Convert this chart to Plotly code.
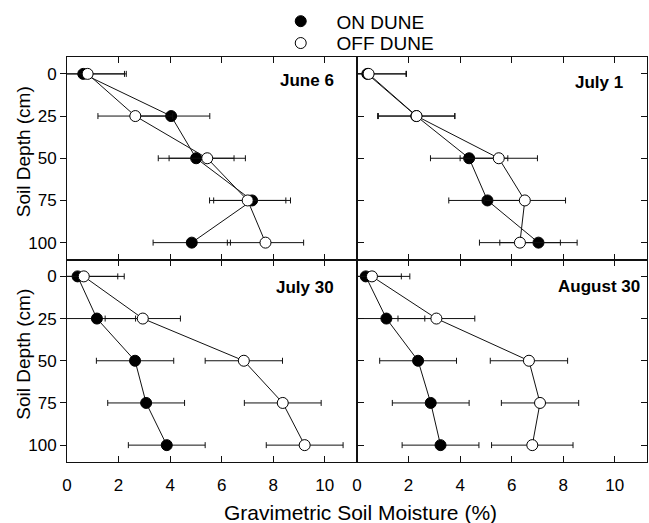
import plotly.graph_objects as go
from plotly.subplots import make_subplots

# ---- data ----
depths = [0, 25, 50, 75, 100]
panel_titles = ["June 6", "July 1", "July 30", "August 30"]
x_ticks = [0, 2, 4, 6, 8, 10]
y_ticks = [0, 25, 50, 75, 100]

june6_on = [0.63, 4.04, 5.01, 7.18, 4.84]
june6_on_err = [1.6, 1.5, 1.47, 1.49, 1.5]
june6_off = [0.80, 2.65, 5.44, 7.01, 7.70]
june6_off_err = [1.5, 1.45, 1.48, 1.48, 1.48]

july1_on = [0.40, 2.30, 4.35, 5.06, 7.04]
july1_on_err = [1.5, 1.5, 1.5, 1.5, 1.5]
july1_off = [0.45, 2.31, 5.50, 6.51, 6.32]
july1_off_err = [1.47, 1.48, 1.5, 1.58, 1.57]

july30_on = [0.41, 1.16, 2.64, 3.07, 3.87]
july30_on_err = [1.56, 1.5, 1.5, 1.49, 1.49]
july30_off = [0.65, 2.94, 6.86, 8.37, 9.22]
july30_off_err = [1.57, 1.46, 1.5, 1.49, 1.49]

aug30_on = [0.34, 1.14, 2.37, 2.86, 3.24]
aug30_on_err = [1.38, 1.49, 1.49, 1.49, 1.49]
aug30_off = [0.58, 3.08, 6.67, 7.10, 6.80]
aug30_off_err = [1.47, 1.49, 1.5, 1.5, 1.58]

panels = [
    (june6_on, june6_on_err, june6_off, june6_off_err),
    (july1_on, july1_on_err, july1_off, july1_off_err),
    (july30_on, july30_on_err, july30_off, july30_off_err),
    (aug30_on, aug30_on_err, aug30_off, aug30_off_err),
]

FONT = "Arial, Liberation Sans, Helvetica, sans-serif"
INK = "#111111"

fig = make_subplots(rows=2, cols=2, horizontal_spacing=0, vertical_spacing=0)

for i, (on, on_e, off, off_e) in enumerate(panels):
    r, c = i // 2 + 1, i % 2 + 1
    fig.add_trace(go.Scatter(
        x=on, y=depths, mode="lines+markers", showlegend=False,
        line=dict(color=INK, width=1),
        marker=dict(symbol="circle", size=11, color="black", line=dict(color="black", width=1)),
        error_x=dict(type="data", array=on_e, visible=True, color=INK, thickness=1, width=3),
    ), row=r, col=c)
    fig.add_trace(go.Scatter(
        x=off, y=depths, mode="lines+markers", showlegend=False,
        line=dict(color=INK, width=1),
        marker=dict(symbol="circle", size=11, color="white", line=dict(color="black", width=1)),
        error_x=dict(type="data", array=off_e, visible=True, color=INK, thickness=1, width=3),
    ), row=r, col=c)

# legend-only traces (one legend box each for precise placement)
NB = "\u00a0" * 3
fig.add_trace(go.Scatter(x=[None], y=[None], mode="markers", name=NB + "ON DUNE", legend="legend",
                         marker=dict(symbol="circle", size=11, color="black", line=dict(color="black", width=1))),
              row=1, col=1)
fig.add_trace(go.Scatter(x=[None], y=[None], mode="markers", name=NB + "OFF DUNE", legend="legend2",
                         marker=dict(symbol="circle", size=11, color="white", line=dict(color="black", width=1))),
              row=1, col=1)

for r in (1, 2):
    for c in (1, 2):
        fig.update_xaxes(range=[0, 11.25], tickvals=x_ticks, ticks="inside", ticklen=6,
                         showline=True, linecolor=INK, linewidth=1, mirror="ticks",
                         showgrid=False, zeroline=False, tickcolor=INK,
                         showticklabels=(r == 2), ticklabelstandoff=8,
                         tickfont=dict(family=FONT, size=17, color="black"),
                         row=r, col=c)
        fig.update_yaxes(range=[110, -10], tickvals=y_ticks,
                         ticks="outside" if c == 1 else "inside", ticklen=6,
                         showline=True, linecolor=INK, linewidth=1, mirror="ticks",
                         showgrid=False, zeroline=False, tickcolor=INK,
                         showticklabels=(c == 1),
                         tickfont=dict(family=FONT, size=17, color="black"),
                         row=r, col=c)

annotations = []
title_pos = [("x domain", "y domain", 0.927, 0.885),
             ("x2 domain", "y2 domain", 0.925, 0.875),
             ("x3 domain", "y3 domain", 0.927, 0.862),
             ("x4 domain", "y4 domain", 0.982, 0.867)]
for t, (xr, yr, xx, yy) in zip(panel_titles, title_pos):
    annotations.append(dict(text="<b>" + t + "</b>", xref=xr, yref=yr, x=xx, y=yy,
                            xanchor="right", yanchor="middle", showarrow=False,
                            font=dict(family=FONT, size=17, color="black")))
for yy in (0.767, 0.267):
    annotations.append(dict(text="Soil Depth (cm)", xref="paper", yref="paper", x=-0.0745, y=yy,
                            xanchor="center", yanchor="middle", textangle=-90, showarrow=False,
                            font=dict(family=FONT, size=19, color="black")))
annotations.append(dict(text="Gravimetric Soil Moisture (%)", xref="paper", yref="paper",
                        x=0.506, y=-0.125, xanchor="center", yanchor="middle", showarrow=False,
                        font=dict(family=FONT, size=21, color="black")))

leg_common = dict(xanchor="left", yanchor="top",
                  font=dict(family=FONT, size=19, color="black"),
                  bgcolor="rgba(0,0,0,0)", itemwidth=30)
fig.update_layout(
    width=649, height=523,
    margin=dict(l=67, r=2, t=57, b=61),
    paper_bgcolor="white", plot_bgcolor="white",
    annotations=annotations,
    legend=dict(x=0.3685, y=1.135, **leg_common),
    legend2=dict(x=0.3685, y=1.081, **leg_common),
)

fig.write_html("out.html")
